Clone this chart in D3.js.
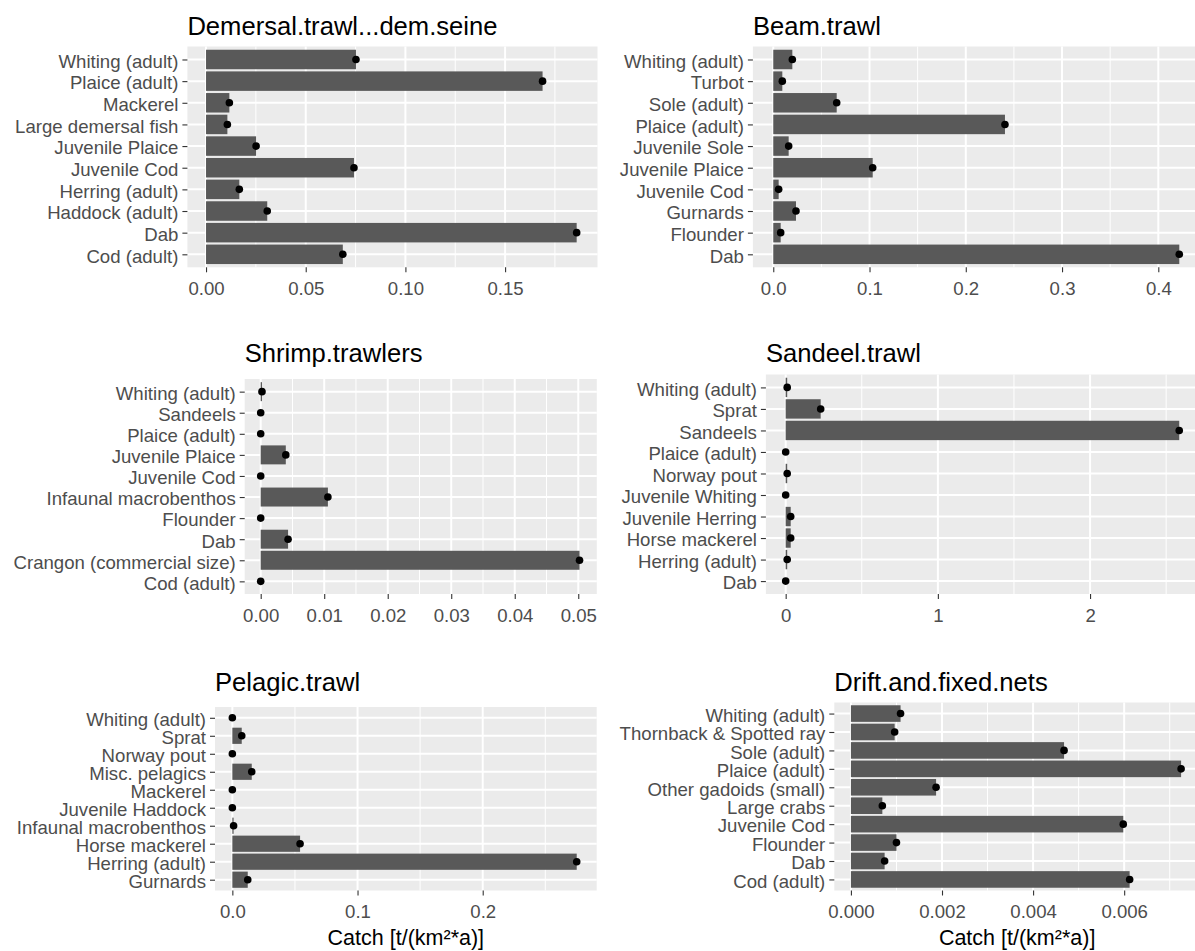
<!DOCTYPE html>
<html>
<head>
<meta charset="utf-8">
<script src="https://cdn.jsdelivr.net/npm/d3@7"></script>
<style>
  body { margin: 0; background: #fff; }
  svg { display: block; }
  text { font-family: "Liberation Sans", Arial, sans-serif; }
</style>
</head>
<body>
<svg id="chart" width="1195" height="951"></svg>
<script>
// ---- Catch per gear type, t/(km²*a); species listed top to bottom ----
const demersalSpecies = ["Whiting (adult)", "Plaice (adult)", "Mackerel", "Large demersal fish", "Juvenile Plaice",
  "Juvenile Cod", "Herring (adult)", "Haddock (adult)", "Dab", "Cod (adult)"];
const demersalCatch = [0.0752, 0.1688, 0.0117, 0.0107, 0.0251, 0.0742, 0.0167, 0.0307, 0.1859, 0.0686];
const demersalTicks = [0, 0.05, 0.10, 0.15];
const demersalTickLabels = ["0.00", "0.05", "0.10", "0.15"];

const beamSpecies = ["Whiting (adult)", "Turbot", "Sole (adult)", "Plaice (adult)", "Juvenile Sole",
  "Juvenile Plaice", "Juvenile Cod", "Gurnards", "Flounder", "Dab"];
const beamCatch = [0.0198, 0.0094, 0.0659, 0.2407, 0.0160, 0.1033, 0.0056, 0.0236, 0.0077, 0.4218];
const beamTicks = [0, 0.1, 0.2, 0.3, 0.4];
const beamTickLabels = ["0.0", "0.1", "0.2", "0.3", "0.4"];

const shrimpSpecies = ["Whiting (adult)", "Sandeels", "Plaice (adult)", "Juvenile Plaice", "Juvenile Cod",
  "Infaunal macrobenthos", "Flounder", "Dab", "Crangon (commercial size)", "Cod (adult)"];
const shrimpCatch = [0.0002, 0, 0, 0.00395, 0, 0.01058, 0, 0.00431, 0.0502, 0];
const shrimpTicks = [0, 0.01, 0.02, 0.03, 0.04, 0.05];
const shrimpTickLabels = ["0.00", "0.01", "0.02", "0.03", "0.04", "0.05"];

const sandeelSpecies = ["Whiting (adult)", "Sprat", "Sandeels", "Plaice (adult)", "Norway pout",
  "Juvenile Whiting", "Juvenile Herring", "Horse mackerel", "Herring (adult)", "Dab"];
const sandeelCatch = [0.01, 0.230, 2.586, 0, 0.01, 0, 0.033, 0.033, 0.01, 0];
const sandeelTicks = [0, 1, 2];
const sandeelTickLabels = ["0", "1", "2"];

const pelagicSpecies = ["Whiting (adult)", "Sprat", "Norway pout", "Misc. pelagics", "Mackerel",
  "Juvenile Haddock", "Infaunal macrobenthos", "Horse mackerel", "Herring (adult)", "Gurnards"];
const pelagicCatch = [0, 0.0075, 0, 0.0155, 0, 0, 0.001, 0.0541, 0.2751, 0.0123];
const pelagicTicks = [0, 0.1, 0.2];
const pelagicTickLabels = ["0.0", "0.1", "0.2"];

const netsSpecies = ["Whiting (adult)", "Thornback & Spotted ray", "Sole (adult)", "Plaice (adult)",
  "Other gadoids (small)", "Large crabs", "Juvenile Cod", "Flounder", "Dab", "Cod (adult)"];
const netsCatch = [0.00109, 0.00096, 0.00468, 0.00725, 0.00187, 0.00069, 0.00598, 0.00100, 0.00074, 0.00612];
const netsTicks = [0, 0.002, 0.004, 0.006];
const netsTickLabels = ["0.000", "0.002", "0.004", "0.006"];

// upper data limit of each x axis (before the 5% expansion)
const axisUpper = [0.187, 0.4232, 0.0504, 2.599, 0.2772, 0.0073];

const gearTitles = ["Demersal.trawl...dem.seine", "Beam.trawl", "Shrimp.trawlers",
  "Sandeel.trawl", "Pelagic.trawl", "Drift.and.fixed.nets"];
const xAxisTitle = "Catch [t/(km\u00B2*a)]";

const panels = [
  { cats: demersalSpecies, vals: demersalCatch, ticks: demersalTicks, labels: demersalTickLabels },
  { cats: beamSpecies, vals: beamCatch, ticks: beamTicks, labels: beamTickLabels },
  { cats: shrimpSpecies, vals: shrimpCatch, ticks: shrimpTicks, labels: shrimpTickLabels },
  { cats: sandeelSpecies, vals: sandeelCatch, ticks: sandeelTicks, labels: sandeelTickLabels },
  { cats: pelagicSpecies, vals: pelagicCatch, ticks: pelagicTicks, labels: pelagicTickLabels },
  { cats: netsSpecies, vals: netsCatch, ticks: netsTicks, labels: netsTickLabels }
].map((p, i) => ({ ...p, title: gearTitles[i], upper: axisUpper[i] }));

// ---- layout: panel boxes (pixels) ----
const boxes = [
  { left: 187.4, right: 597.5, top: 46.5,  bottom: 267.3, titleY: 35,  axisTitle: false },
  { left: 752.9, right: 1201,  top: 46.5,  bottom: 267.3, titleY: 35,  axisTitle: false },
  { left: 244.7, right: 596.8, top: 379,   bottom: 594,   titleY: 362, axisTitle: false },
  { left: 765.9, right: 1201,  top: 374.5, bottom: 594,   titleY: 362, axisTitle: false },
  { left: 215,   right: 596.7, top: 707,   bottom: 890.5, titleY: 691, axisTitle: true },
  { left: 834.3, right: 1200,  top: 702.5, bottom: 890.5, titleY: 691, axisTitle: true }
];

const style = {
  panelBg: "#EBEBEB", grid: "#FFFFFF", bar: "#595959", point: "#000000",
  tickLine: "#333333", tickText: "#4D4D4D", title: "#000000",
  tickFont: 18.6, titleFont: 25.6, axisTitleFont: 21.5
};

const svg = d3.select("#chart");
svg.append("rect").attr("width", 1195).attr("height", 951).attr("fill", "#fff");

panels.forEach((p, i) => {
  const b = boxes[i];
  const g = svg.append("g");

  const x = d3.scaleLinear()
    .domain([-0.05 * p.upper, 1.05 * p.upper])
    .range([b.left, b.right]);
  const y = d3.scalePoint()
    .domain(p.cats)
    .range([b.top, b.bottom])
    .padding(0.6);
  const barH = y.step() * 0.9;

  // panel background
  g.append("rect")
    .attr("x", b.left).attr("y", b.top)
    .attr("width", b.right - b.left).attr("height", b.bottom - b.top)
    .attr("fill", style.panelBg);

  // minor vertical grid lines halfway between major breaks
  const stepMajor = p.ticks[1] - p.ticks[0];
  const [d0, d1] = x.domain();
  const minor = d3.range(p.ticks[0] - stepMajor / 2, d1 + stepMajor, stepMajor)
    .filter(v => v > d0 && v < d1);
  g.selectAll(".minor").data(minor).join("line")
    .attr("x1", d => x(d)).attr("x2", d => x(d))
    .attr("y1", b.top).attr("y2", b.bottom)
    .attr("stroke", style.grid).attr("stroke-width", 1);

  // major vertical grid lines
  g.selectAll(".majorx").data(p.ticks).join("line")
    .attr("x1", d => x(d)).attr("x2", d => x(d))
    .attr("y1", b.top).attr("y2", b.bottom)
    .attr("stroke", style.grid).attr("stroke-width", 2);

  // horizontal grid lines at each species
  g.selectAll(".majory").data(p.cats).join("line")
    .attr("x1", b.left).attr("x2", b.right)
    .attr("y1", d => y(d)).attr("y2", d => y(d))
    .attr("stroke", style.grid).attr("stroke-width", 2);

  const rows = p.cats.map((c, j) => ({ cat: c, val: p.vals[j] }));

  // bars
  g.selectAll(".bar").data(rows).join("rect")
    .attr("x", x(0))
    .attr("y", d => y(d.cat) - barH / 2)
    .attr("width", d => x(d.val) - x(0))
    .attr("height", barH)
    .attr("fill", style.bar);

  // point at each bar end
  g.selectAll(".pt").data(rows).join("circle")
    .attr("cx", d => x(d.val))
    .attr("cy", d => y(d.cat))
    .attr("r", 3.8)
    .attr("fill", style.point);

  // x axis
  const xAxis = d3.axisBottom(x)
    .tickValues(p.ticks)
    .tickFormat((d, j) => p.labels[j])
    .tickSizeInner(5).tickSizeOuter(0).tickPadding(9.3);
  const gx = g.append("g").attr("transform", `translate(0,${b.bottom})`).call(xAxis);
  gx.select(".domain").remove();
  gx.selectAll(".tick line").attr("stroke", style.tickLine).attr("stroke-width", 1.1);
  gx.selectAll(".tick text")
    .attr("fill", style.tickText)
    .style("font-size", style.tickFont + "px")
    .style("font-family", '"Liberation Sans", Arial, sans-serif');

  // y axis
  const yAxis = d3.axisLeft(y).tickSizeInner(5).tickSizeOuter(0).tickPadding(4);
  const gy = g.append("g").attr("transform", `translate(${b.left},0)`).call(yAxis);
  gy.select(".domain").remove();
  gy.selectAll(".tick line").attr("stroke", style.tickLine).attr("stroke-width", 1.1);
  gy.selectAll(".tick text")
    .attr("fill", style.tickText)
    .attr("dy", "0.42em")
    .style("font-size", style.tickFont + "px")
    .style("font-family", '"Liberation Sans", Arial, sans-serif');

  // panel title
  g.append("text")
    .attr("x", b.left).attr("y", b.titleY)
    .attr("fill", style.title)
    .style("font-size", style.titleFont + "px")
    .text(p.title);

  // x-axis title on the bottom row
  if (b.axisTitle) {
    g.append("text")
      .attr("x", (b.left + b.right) / 2).attr("y", 945)
      .attr("text-anchor", "middle")
      .attr("fill", style.title)
      .style("font-size", style.axisTitleFont + "px")
      .text(xAxisTitle);
  }
});
</script>
</body>
</html>
